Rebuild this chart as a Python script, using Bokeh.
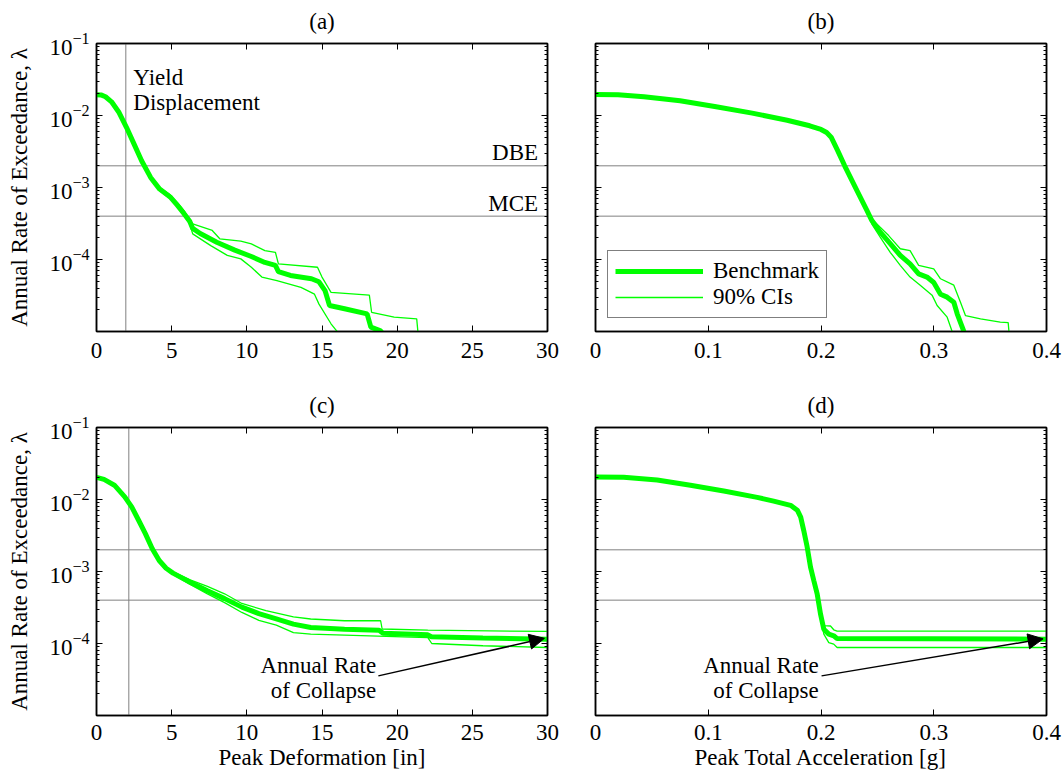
from bokeh.plotting import figure
from bokeh.layouts import column, row
from bokeh.models import (Range1d, FixedTicker, LogAxis, LinearAxis, Span, Arrow,
                          NormalHead, Legend, LegendItem, CustomJSTickFormatter)
from bokeh.core.properties import value
from bokeh.embed import file_html
from bokeh.resources import INLINE

# ---------------- data ----------------
# (a) Peak deformation [in]
a_bench_x = [0, 0.3, 0.6, 1.0, 1.5, 2.0, 2.5, 3.0, 3.6, 4.2, 4.9, 5.4, 5.8, 6.2, 6.4, 6.9, 8.0, 9.2,
             10.3, 11.2, 11.9, 12.1, 12.9, 14.3, 14.8, 15.2, 15.5, 16.5, 18.0, 18.25, 18.9, 19.1]
a_bench_y = [1.94e-2, 1.93e-2, 1.82e-2, 1.55e-2, 1.10e-2, 6.8e-3, 4.0e-3, 2.35e-3, 1.38e-3, 9.5e-4,
             7.4e-4, 5.6e-4, 4.4e-4, 3.4e-4, 2.7e-4, 2.3e-4, 1.74e-4, 1.35e-4, 1.10e-4, 9.1e-5,
             8.3e-5, 6.8e-5, 6.0e-5, 5.4e-5, 4.9e-5, 3.7e-5, 2.3e-5, 2.07e-5, 1.76e-5, 1.15e-5,
             1.02e-5, 8.9e-6]
a_up_x = [0, 0.6, 1.0, 1.5, 2.0, 2.5, 3.0, 3.6, 4.2, 4.9, 5.4, 5.8, 6.2, 6.4, 7.7, 8.2, 9.6, 10.3,
          11.2, 11.9, 12.1, 14.7, 15.0, 15.6, 18.15, 18.3, 19.8, 21.3, 21.4]
a_up_y = [1.96e-2, 1.84e-2, 1.57e-2, 1.12e-2, 6.9e-3, 4.1e-3, 2.4e-3, 1.43e-3, 1.0e-3, 7.9e-4,
          6.1e-4, 4.8e-4, 3.6e-4, 3.13e-4, 2.53e-4, 1.94e-4, 1.80e-4, 1.65e-4, 1.33e-4, 1.26e-4,
          8.7e-5, 7.8e-5, 5.7e-5, 3.5e-5, 3.2e-5, 1.85e-5, 1.58e-5, 1.5e-5, 8.9e-6]
a_lo_x = [0, 0.6, 1.0, 1.5, 2.0, 2.5, 3.0, 3.6, 4.2, 4.9, 5.4, 5.8, 6.2, 6.4, 7.6, 8.7, 9.6, 10.3,
          11.0, 12.0, 13.6, 14.5, 14.8, 15.6, 16.2]
a_lo_y = [1.92e-2, 1.80e-2, 1.53e-2, 1.08e-2, 6.7e-3, 3.9e-3, 2.3e-3, 1.33e-3, 9.0e-4, 7.0e-4,
          5.3e-4, 4.1e-4, 3.1e-4, 2.27e-4, 1.56e-4, 1.14e-4, 1.02e-4, 7.8e-5, 5.7e-5, 5.1e-5,
          4.1e-5, 3.3e-5, 2.4e-5, 1.28e-5, 8.9e-6]

# (b) Peak total acceleration [g]
b_bench_x = [0, 0.02, 0.043, 0.075, 0.107, 0.139, 0.170, 0.19, 0.2, 0.205, 0.209, 0.215, 0.221,
             0.2318, 0.2407, 0.245, 0.2525, 0.2614, 0.2703, 0.279, 0.2866, 0.294, 0.300, 0.306,
             0.3119, 0.3178, 0.3208, 0.3267, 0.328]
b_bench_y = [1.96e-2, 1.94e-2, 1.82e-2, 1.60e-2, 1.32e-2, 1.08e-2, 8.6e-3, 7.2e-3, 6.4e-3, 5.8e-3,
             5.0e-3, 3.2e-3, 2.0e-3, 9.1e-4, 4.8e-4, 3.5e-4, 2.4e-4, 1.66e-4, 1.14e-4, 8.7e-5,
             6.3e-5, 5.7e-5, 4.8e-5, 3.3e-5, 3.0e-5, 2.55e-5, 1.76e-5, 1.0e-5, 8.9e-6]
b_up_x = [0.2, 0.209, 0.215, 0.221, 0.2318, 0.2407, 0.245, 0.2525, 0.26, 0.2703, 0.279, 0.2866,
          0.300, 0.306, 0.3178, 0.3237, 0.3282, 0.3415, 0.359, 0.366, 0.367]
b_up_y = [6.4e-3, 5.0e-3, 3.2e-3, 2.0e-3, 9.3e-4, 5.0e-4, 3.67e-4, 2.8e-4, 2.15e-4, 1.41e-4,
          1.33e-4, 8.3e-5, 7.4e-5, 5.4e-5, 4.4e-5, 2.55e-5, 1.66e-5, 1.5e-5, 1.35e-5, 1.33e-5,
          8.9e-6]
b_lo_x = [0.2, 0.209, 0.215, 0.221, 0.2318, 0.2407, 0.245, 0.2525, 0.2614, 0.2703, 0.279, 0.288,
          0.2985, 0.303, 0.3119, 0.3163, 0.317]
b_lo_y = [6.4e-3, 5.0e-3, 3.2e-3, 2.0e-3, 8.9e-4, 4.6e-4, 3.13e-4, 2.04e-4, 1.26e-4, 8.3e-5,
          5.7e-5, 4.4e-5, 3.2e-5, 2.3e-5, 1.58e-5, 1.0e-5, 8.9e-6]

# (c) Peak deformation [in], with collapse
c_bench_x = [0, 0.5, 1.19, 1.88, 2.34, 2.8, 3.25, 3.71, 4.17, 4.63, 5.09, 6.23, 7.38, 8.52, 9.67,
             10.8, 11.96, 13.1, 14.25, 16.5, 18.8, 19.06, 22.04, 22.27, 25.7, 30]
c_bench_y = [2.03e-2, 1.9e-2, 1.58e-2, 1.09e-2, 7.9e-3, 5.15e-3, 3.36e-3, 2.07e-3, 1.42e-3, 1.11e-3,
             9.5e-4, 7.1e-4, 5.4e-4, 4.2e-4, 3.2e-4, 2.6e-4, 2.2e-4, 1.86e-4, 1.67e-4, 1.58e-4,
             1.53e-4, 1.39e-4, 1.32e-4, 1.24e-4, 1.19e-4, 1.15e-4]
c_up_x = [0, 0.5, 1.19, 1.88, 2.34, 2.8, 3.25, 3.71, 4.17, 4.63, 5.09, 6.23, 7.38, 8.52, 9.67,
          11.27, 13.1, 14.25, 16.5, 18.9, 19.0, 22.04, 30]
c_up_y = [2.05e-2, 1.92e-2, 1.60e-2, 1.11e-2, 8.1e-3, 5.3e-3, 3.45e-3, 2.13e-3, 1.47e-3, 1.15e-3,
          9.9e-4, 7.65e-4, 6.2e-4, 4.9e-4, 3.6e-4, 2.86e-4, 2.35e-4, 2.19e-4, 2.07e-4, 2.07e-4,
          1.59e-4, 1.53e-4, 1.47e-4]
c_lo_x = [0, 0.5, 1.19, 1.88, 2.34, 2.8, 3.25, 3.71, 4.17, 4.63, 5.09, 6.23, 7.38, 8.52, 9.67,
          10.8, 11.96, 13.1, 14.25, 16.5, 22.04, 22.3, 25.7, 30]
c_lo_y = [2.01e-2, 1.88e-2, 1.56e-2, 1.07e-2, 7.7e-3, 5.0e-3, 3.27e-3, 2.01e-3, 1.38e-3, 1.07e-3,
          9.1e-4, 6.6e-4, 4.9e-4, 3.7e-4, 2.7e-4, 2.1e-4, 1.8e-4, 1.42e-4, 1.35e-4, 1.31e-4,
          1.21e-4, 1.0e-4, 9.3e-5, 8.8e-5]

# (d) Peak total acceleration [g], with collapse
d_bench_x = [0, 0.025, 0.0547, 0.0842, 0.1138, 0.1434, 0.158, 0.173, 0.179, 0.182, 0.1847, 0.1877,
             0.1907, 0.1936, 0.1966, 0.1995, 0.2025, 0.2069, 0.2113, 0.2143, 0.4]
d_bench_y = [2.05e-2, 2.03e-2, 1.86e-2, 1.58e-2, 1.31e-2, 1.07e-2, 9.5e-3, 8.3e-3, 7.1e-3, 5.7e-3,
             3.7e-3, 2.2e-3, 1.15e-3, 7.5e-4, 4.9e-4, 2.6e-4, 1.58e-4, 1.35e-4, 1.28e-4, 1.17e-4,
             1.15e-4]
d_up_x = [0.1877, 0.1907, 0.1936, 0.1966, 0.1995, 0.2025, 0.2084, 0.2113, 0.2143, 0.4]
d_up_y = [2.2e-3, 1.15e-3, 7.6e-4, 5.0e-4, 2.8e-4, 1.77e-4, 1.75e-4, 1.55e-4, 1.49e-4, 1.49e-4]
d_lo_x = [0.1877, 0.1907, 0.1936, 0.1966, 0.1995, 0.2025, 0.2069, 0.2113, 0.2143, 0.4]
d_lo_y = [2.2e-3, 1.15e-3, 7.4e-4, 4.8e-4, 2.5e-4, 1.35e-4, 1.03e-4, 9.8e-5, 8.8e-5, 8.8e-5]

# reference levels
DBE = 2e-3
MCE = 4e-4
yield_a = 1.95
yield_c = 2.15

xticks_disp = [0, 5, 10, 15, 20, 25, 30]
xticks_acc = [0, 0.1, 0.2, 0.3, 0.4]
yticks_major = [1e-4, 1e-3, 1e-2, 1e-1]
yticks_minor = [m * d for d in (1e-5, 1e-4, 1e-3, 1e-2) for m in (2, 3, 4, 5, 6, 7, 8, 9)]

titles = ["(a)", "(b)", "(c)", "(d)"]
ylabel = "Annual Rate of Exceedance, \u03bb"
xlabel_disp = "Peak Deformation [in]"
xlabel_acc = "Peak Total Acceleration [g]"
legend_labels = ["Benchmark", "90% CIs"]

# annotation placement (data units)
yield_text = ["Yield", "Displacement"]
yield_text_x = [2.45, 2.45]
yield_text_y = [3.37e-2, 1.52e-2]
level_text = ["DBE", "MCE"]
level_text_x = [29.37, 29.37]
level_text_y = [3.1e-3, 6.0e-4]
collapse_text = ["Annual Rate", "of Collapse"]
c_collapse_x = [18.6, 18.6]
d_collapse_x = [0.198, 0.198]
collapse_text_y = [4.9e-5, 2.2e-5]
c_arrow = (18.75, 3.55e-5, 29.8, 1.18e-4)
d_arrow = (0.2005, 3.55e-5, 0.397, 1.16e-4)

FONT = "Liberation Serif"
GREEN = "#00ff00"
GRAY = "#808080"
FS = "23px"
FRAME_W, FRAME_H = 451, 288


def hide_labels(ax):
    ax.formatter = CustomJSTickFormatter(code="return ''")
    ax.major_label_text_font_size = "2px"
    ax.major_label_standoff = 0


def style_axis(ax, minor, standoff):
    ax.major_tick_in = 6
    ax.major_tick_out = 0
    ax.minor_tick_in = 3
    ax.minor_tick_out = 0
    ax.axis_line_width = 1.5
    ax.axis_line_color = "black"
    ax.major_tick_line_color = "black"
    ax.major_tick_line_width = 1
    ax.minor_tick_line_color = "black" if minor else None
    ax.minor_tick_line_width = 1
    ax.major_label_text_font = FONT
    ax.major_label_text_font_size = FS
    ax.major_label_text_color = "black"
    ax.major_label_standoff = standoff
    ax.axis_label_text_font = FONT
    ax.axis_label_text_font_size = "23px"
    ax.axis_label_text_font_style = "normal"
    ax.axis_label_text_color = "black"


def make_fig(x_end, xticks, bl, br, bt, bb, title, show_ylab, xlab, tick_standoff):
    p = figure(width=bl + FRAME_W + br, height=bt + FRAME_H + bb,
               x_range=Range1d(0, x_end), y_range=Range1d(1e-5, 1e-1),
               y_axis_type="log", output_backend="svg", toolbar_location=None,
               min_border_left=bl, min_border_right=br, min_border_top=bt,
               min_border_bottom=bb)
    p.background_fill_color = "white"
    p.border_fill_color = "white"
    p.outline_line_color = "black"
    p.outline_line_width = 1.5
    p.xgrid.visible = False
    p.ygrid.visible = False

    p.title.text = title
    p.title.align = "center"
    p.title.vertical_align = "top"
    p.title.standoff = 16
    p.title.text_font = FONT
    p.title.text_font_size = "23px"
    p.title.text_font_style = "normal"
    p.title.text_color = "black"

    bottom_ax = p.below[0]
    left_ax = p.left[0]
    bottom_ax.ticker = FixedTicker(ticks=xticks)
    left_ax.ticker = FixedTicker(ticks=yticks_major, minor_ticks=yticks_minor)

    ra = LogAxis(ticker=FixedTicker(ticks=yticks_major, minor_ticks=yticks_minor))
    p.add_layout(ra, "right")
    ta = LinearAxis(ticker=FixedTicker(ticks=xticks))
    p.add_layout(ta, "above")

    style_axis(bottom_ax, False, tick_standoff)
    style_axis(ta, False, 0)
    style_axis(left_ax, True, 7)
    style_axis(ra, True, 0)
    hide_labels(ra)
    hide_labels(ta)
    if show_ylab:
        left_ax.axis_label = ylabel
        left_ax.axis_label_standoff = 14
    else:
        hide_labels(left_ax)
    if xlab:
        bottom_ax.axis_label = xlab
        bottom_ax.axis_label_standoff = 2
    return p


def add_levels(p, yield_x=None):
    for lv in (DBE, MCE):
        p.add_layout(Span(location=lv, dimension="width", line_color=GRAY,
                          line_width=1, level="underlay"))
    if yield_x is not None:
        p.add_layout(Span(location=yield_x, dimension="height", line_color=GRAY,
                          line_width=1, level="underlay"))


def add_curves(p, bx, by, ux, uy, lx, ly):
    p.line(ux, uy, line_color=GREEN, line_width=1.3)
    r_lo = p.line(lx, ly, line_color=GREEN, line_width=1.3)
    r_b = p.line(bx, by, line_color=GREEN, line_width=5)
    return r_b, r_lo


def add_text(p, xs, ys, texts, align):
    p.text(x=xs, y=ys, text=texts, text_font=value(FONT), text_font_size=value("23px"),
           text_color="black", text_align=align, text_baseline="middle")


def add_arrow(p, coords):
    xs, ys, xe, ye = coords
    p.add_layout(Arrow(end=NormalHead(size=15, fill_color="black", line_color="black"),
                       x_start=xs, y_start=ys, x_end=xe, y_end=ye,
                       line_color="black", line_width=1.5))


pa = make_fig(30, xticks_disp, 96, 24, 43, 48, titles[0], True, None, 11)
add_levels(pa, yield_a)
add_curves(pa, a_bench_x, a_bench_y, a_up_x, a_up_y, a_lo_x, a_lo_y)
add_text(pa, yield_text_x, yield_text_y, yield_text, "left")
add_text(pa, level_text_x, level_text_y, level_text, "right")

pb = make_fig(0.4, xticks_acc, 24, 17, 43, 48, titles[1], False, None, 11)
add_levels(pb)
rb, rl = add_curves(pb, b_bench_x, b_bench_y, b_up_x, b_up_y, b_lo_x, b_lo_y)
leg = Legend(items=[LegendItem(label=legend_labels[0], renderers=[rb]),
                    LegendItem(label=legend_labels[1], renderers=[rl])],
             location=(12, 13), margin=0, padding=7, spacing=0,
             glyph_width=88, glyph_height=20, label_height=20, label_standoff=10,
             border_line_color="black", border_line_width=1.2,
             background_fill_color="white", background_fill_alpha=1,
             label_text_font=FONT, label_text_font_size="23px", label_text_color="black")
pb.add_layout(leg)

pc = make_fig(30, xticks_disp, 96, 24, 48, 64, titles[2], True, xlabel_disp, 9)
add_levels(pc, yield_c)
add_curves(pc, c_bench_x, c_bench_y, c_up_x, c_up_y, c_lo_x, c_lo_y)
add_text(pc, c_collapse_x, collapse_text_y, collapse_text, "right")
add_arrow(pc, c_arrow)

pd_ = make_fig(0.4, xticks_acc, 24, 17, 48, 64, titles[3], False, xlabel_acc, 9)
add_levels(pd_)
add_curves(pd_, d_bench_x, d_bench_y, d_up_x, d_up_y, d_lo_x, d_lo_y)
add_text(pd_, d_collapse_x, collapse_text_y, collapse_text, "right")
add_arrow(pd_, d_arrow)

layout = column(row(pa, pb), row(pc, pd_))
open("out.html", "w").write(file_html(layout, INLINE))
